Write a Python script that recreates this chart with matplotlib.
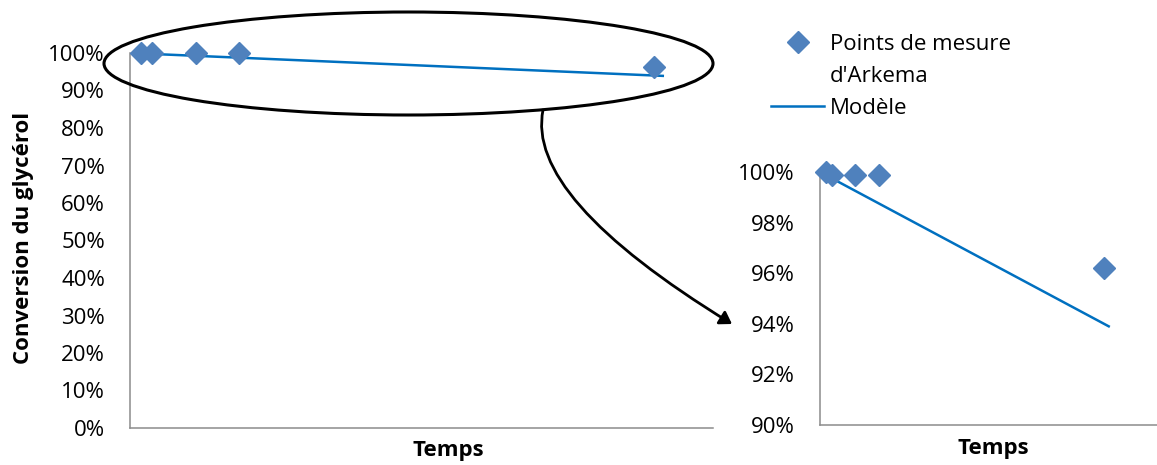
import matplotlib
matplotlib.use("Agg")
import matplotlib.pyplot as plt
from matplotlib.patches import Ellipse, FancyArrowPatch
from matplotlib.path import Path
from matplotlib.lines import Line2D
from matplotlib.ticker import FuncFormatter

# ---- data ----
mesure_t = [0.5, 1, 3, 5, 24]
mesure_conv = [1.000, 0.999, 0.999, 0.999, 0.962]
modele_t = [1, 24.4]
modele_conv = [0.9975, 0.939]
left_yticks = [0, 0.1, 0.2, 0.3, 0.4, 0.5, 0.6, 0.7, 0.8, 0.9, 1.0]
right_yticks = [0.90, 0.92, 0.94, 0.96, 0.98, 1.00]

plt.rcParams['font.family'] = ['Open Sans', 'DejaVu Sans']
W, H = 1157, 465
fig = plt.figure(figsize=(W / 100, H / 100), dpi=100)

def fx(px):
    return px / W

def fy(py):
    return 1 - py / H

mcol = '#4F81BD'
lcol = '#0070C0'
spine_col = '#8C8C8C'
FS = 16

def style(ax):
    for s in ['top', 'right']:
        ax.spines[s].set_visible(False)
    for s in ['left', 'bottom']:
        ax.spines[s].set_color(spine_col)
        ax.spines[s].set_linewidth(1.1)
    ax.tick_params(axis='x', bottom=False, labelbottom=False)
    ax.tick_params(axis='y', length=0, pad=18, labelsize=FS)
    ax.yaxis.set_major_formatter(FuncFormatter(lambda v, p: f"{v*100:.0f}%"))

# left axes
axL = fig.add_axes([fx(130), fy(428), fx(713) - fx(130), fy(53) - fy(428)])
style(axL)
axL.plot(modele_t, modele_conv, color=lcol, lw=1.8, zorder=2, clip_on=False)
axL.plot(mesure_t, mesure_conv, linestyle='none', marker='D', ms=11,
         color=mcol, zorder=3, clip_on=False)
axL.set_xlim(0, 26.7)
axL.set_ylim(0, 1)
axL.set_yticks(left_yticks)
fig.text(fx(448), fy(450), 'Temps', ha='center', va='center', fontsize=FS,
         fontweight='bold')
fig.text(fx(24), fy(238), 'Conversion du glycérol', ha='center', va='center',
         rotation=90, fontsize=FS, fontweight='bold')

# right axes
axR = fig.add_axes([fx(820), fy(425), 1 - fx(820), fy(172) - fy(425)])
style(axR)
axR.plot(modele_t, modele_conv, color=lcol, lw=1.8, zorder=2, clip_on=False)
axR.plot(mesure_t, mesure_conv, linestyle='none', marker='D', ms=11,
         color=mcol, zorder=3, clip_on=False)
axR.set_xlim(0, 28.48)
axR.set_ylim(0.90, 1.00)
axR.set_yticks(right_yticks)
fig.text(fx(993), fy(448), 'Temps', ha='center', va='center', fontsize=FS,
         fontweight='bold')

# legend
h1 = Line2D([], [], linestyle='none', marker='D', ms=11, color=mcol)
h2 = Line2D([], [], linestyle='none')
h3 = Line2D([], [], color=lcol, lw=1.8)
fig.legend([h1, h2, h3], ['Points de mesure', "d'Arkema", 'Modèle'],
           loc='upper left', bbox_to_anchor=(fx(771), fy(34)),
           frameon=False, fontsize=FS, handlelength=2.4, handletextpad=0.25,
           labelspacing=0.5, borderpad=0, borderaxespad=0)

# ellipse
ell = Ellipse((fx(408.5), fy(63.5)), width=609 / W, height=103 / H,
              transform=fig.transFigure, fill=False, ec='black', lw=2.2)
fig.add_artist(ell)

# curved arrow
p0 = (fx(543), fy(110))
pc = (fx(525), fy(197))
p1 = (fx(732), fy(324))
path = Path([p0, pc, p1], [Path.MOVETO, Path.CURVE3, Path.CURVE3])
arr = FancyArrowPatch(path=path, arrowstyle='-|>,head_length=7,head_width=4.5',
                      transform=fig.transFigure, color='black', lw=2.0)
fig.add_artist(arr)

fig.savefig('out.png', dpi=100)
